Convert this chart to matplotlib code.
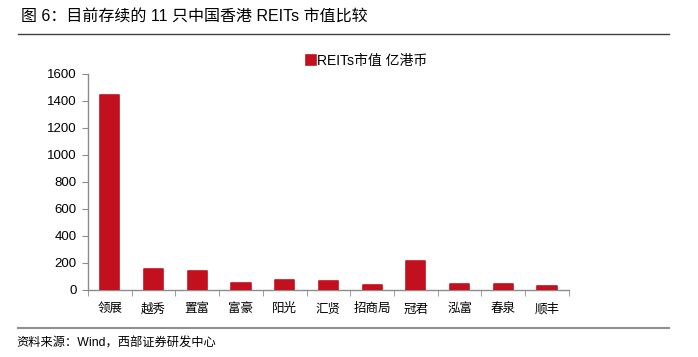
import matplotlib as mpl
mpl.use('Agg')
import matplotlib.pyplot as plt
import numpy as np

categories = ["领展", "越秀", "置富", "富豪", "阳光", "汇贤", "招商局", "冠君", "泓富", "春泉", "顺丰"]
market_cap = [1445, 153, 140, 52, 72, 67, 37, 215, 44, 44, 30]
series_name = "REITs市值 亿港币"
yticks = [0, 200, 400, 600, 800, 1000, 1200, 1400, 1600]

title = "图 6：目前存续的 11 只中国香港 REITs 市值比较"
source = "资料来源：Wind，西部证券研发中心"

plt.rcParams['font.family'] = ['Liberation Sans', 'Noto Sans CJK SC', 'DejaVu Sans']
cjk = ['Noto Sans CJK SC', 'DejaVu Sans']
mixed = ['Liberation Sans', 'Noto Sans CJK SC']
bar_color = "#C3101E"
axis_color = "#8c8c8c"

fig = plt.figure(figsize=(6.98, 3.57), dpi=100)
ax = fig.add_axes([0.126, 0.188, 0.689, 0.605])

x = np.arange(len(categories))
bars = ax.bar(x, market_cap, width=0.44, color=bar_color, edgecolor=bar_color,
              linewidth=1.2, label=series_name, zorder=3)
for b in bars:
    b.set_joinstyle('round')

ax.set_xlim(-0.5, len(categories) - 0.5)
ax.set_ylim(0, 1600)
ax.set_yticks(yticks)
ax.set_yticklabels([str(v) for v in yticks], fontsize=9.5)
ax.set_xticks(x)
ax.set_xticklabels(categories, fontsize=9, family=cjk)
ax.tick_params(axis='x', length=0, pad=9)
ax.set_xticks(np.arange(len(categories) + 1) - 0.5, minor=True)
ax.tick_params(axis='x', which='minor', length=4, color=axis_color, direction='out')
ax.tick_params(axis='y', length=4, color=axis_color, direction='out', pad=4)

for s in ['top', 'right']:
    ax.spines[s].set_visible(False)
for s in ['left', 'bottom']:
    ax.spines[s].set_color(axis_color)
    ax.spines[s].set_linewidth(1.0)

ax.legend(loc='center', bbox_to_anchor=(0.58, 1.06), frameon=False,
          handlelength=0.7, handleheight=0.8, handletextpad=0.1,
          prop={'family': mixed, 'size': 10})

fig.text(0.03, 0.955, title, fontsize=11.5, va='center', ha='left', family=mixed)
fig.add_artist(plt.Line2D([0.026, 0.958], [0.905, 0.905], color='#404040', lw=1.0))
fig.add_artist(plt.Line2D([0.026, 0.958], [0.082, 0.082], color='#909090', lw=1.5))
fig.text(0.024, 0.038, source, fontsize=8.8, va='center', ha='left', family=mixed)

fig.savefig('out.png', dpi=100)
